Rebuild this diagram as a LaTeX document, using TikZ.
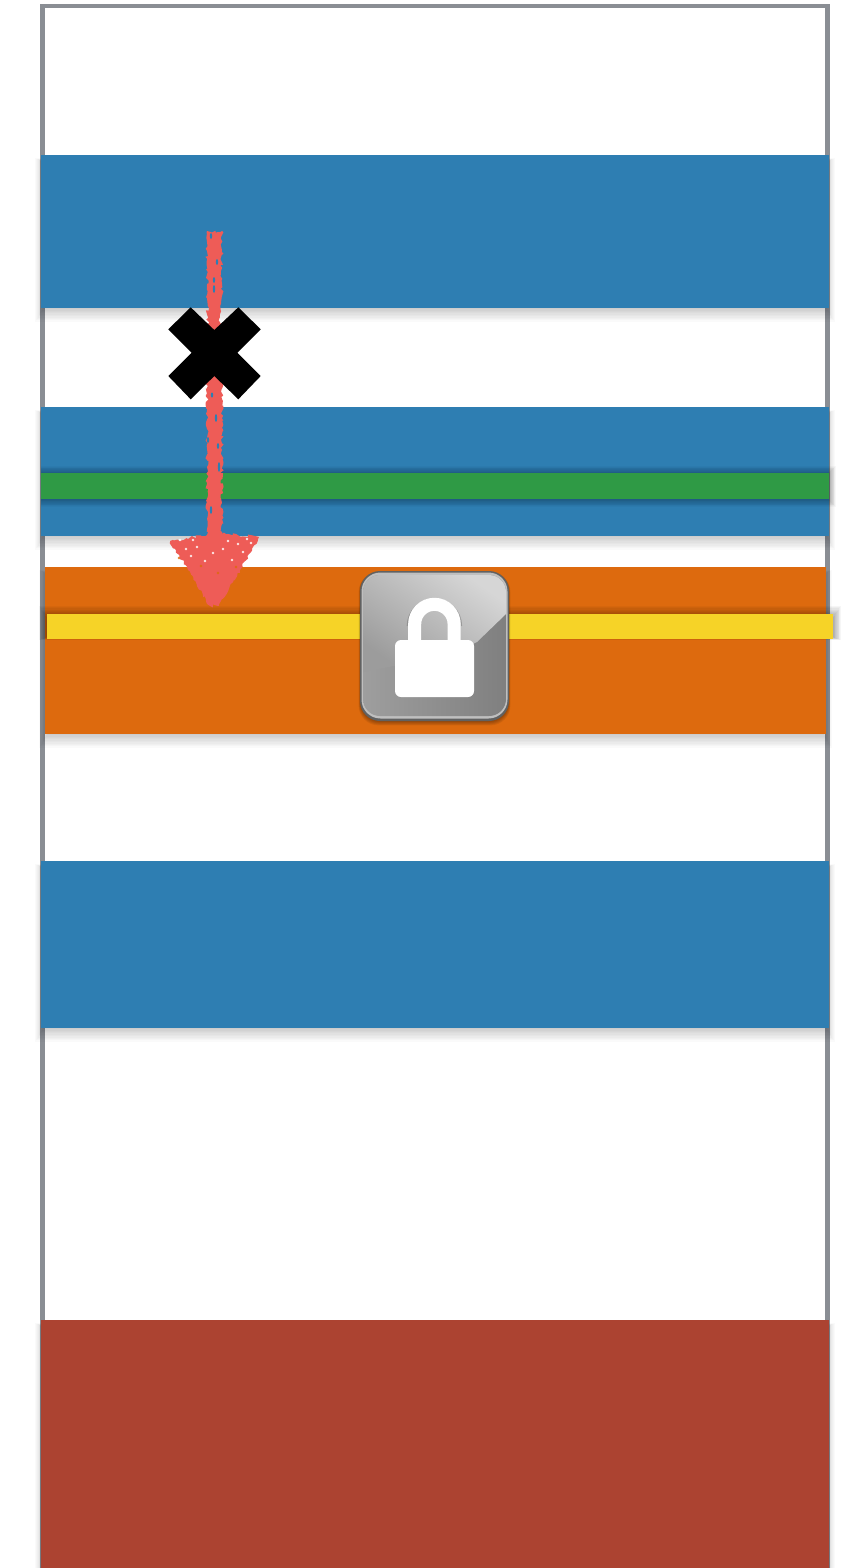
\documentclass[tikz,border=0pt]{standalone}
\usetikzlibrary{decorations.pathmorphing}
\definecolor{bandblue}{HTML}{2E7EB2}
\definecolor{bandgreen}{HTML}{2F9A45}
\definecolor{bandorange}{HTML}{DD6A0E}
\definecolor{bandyellow}{HTML}{F6D327}
\definecolor{bandred}{HTML}{AC4331}
\definecolor{framegray}{HTML}{8A8E94}
\definecolor{chalk}{HTML}{EE5C57}
\newcommand{\softshadow}[4]{%
  \foreach \i in {1,...,12}{%
    \fill[black,opacity=0.02] ({#1+4-\i*0.8},{#2+8-\i*0.4}) rectangle ({#3-4+\i*0.8},{#4-3+\i*1.4});
  }}
\tikzset{
  chalkrough/.style={fill=chalk,decorate,decoration={random steps,segment length=2.5pt,amplitude=1.6pt}},
  chalkhole/.style={fill=#1,opacity=.85},
}
\begin{document}
\begin{tikzpicture}[x=1pt,y=-1pt]
\useasboundingbox (0,0) rectangle (847,1568);
\fill[white] (0,0) rectangle (847,1568);
% frame
\draw[framegray,line width=4.6pt] (42.5,1580) -- (42.5,6) -- (827.5,6) -- (827.5,1580);
% bands
\softshadow{41}{155}{829}{308}
\fill[bandblue] (41,155) rectangle (829,308);
\softshadow{41}{407}{829}{536}
\fill[bandblue] (41,407) rectangle (829,536);
\foreach \i in {1,...,10}{
  \fill[black,opacity=0.028] ({41},{474-\i*0.8}) rectangle ({828+\i*0.8},{499+\i*0.8});
}
\fill[bandgreen] (41,473) rectangle (829,499);
\softshadow{45}{567}{826}{734}
\fill[bandorange] (45,567) rectangle (826,734);
\foreach \i in {1,...,10}{
  \fill[black,opacity=0.035] ({47-\i*0.8},{618-\i*1.2}) rectangle ({833+\i*0.8},{637+\i*0.3});
}
\fill[bandyellow] (47,614) rectangle (833,639);
\softshadow{41}{861}{829}{1028}
\fill[bandblue] (41,861) rectangle (829,1028);
\softshadow{41}{1320}{829}{1568}
\fill[bandred] (41,1320) rectangle (829,1568);
% lock button
\foreach \i in {1,...,6}{
  \fill[black,opacity=0.07,rounded corners=20pt] ({361-\i*0.4},{572}) rectangle ({508+\i*0.4},{720+\i*0.9});
}
\fill[black!62,rounded corners=20pt] (360,571) rectangle (509,721);
\begin{scope}
  \clip[rounded corners=19pt] (361.5,572.5) rectangle (507.5,718.5);
  \fill[black!25] (361,572) rectangle (508,720);
\end{scope}
\begin{scope}
  \clip[rounded corners=17pt] (363,575) rectangle (506,716);
  \shade[left color=black!38,right color=black!50] (363,574) rectangle (506,716);
  \path[shade,left color=black!39,right color=black!16,shading angle=145]
    (363,574) -- (506,574) -- (506,614) -- (477,642) -- (450,655) -- (363,672) -- cycle;
\end{scope}
% padlock
\draw[black!55,opacity=0.5,line width=1pt] (407.2,626) arc[start angle=-180,end angle=0,radius=27.2];
\draw[white,line width=13pt] (414.7,655) -- (414.7,624) arc[start angle=-180,end angle=0,radius=19.7] -- (454.1,655);
\fill[white,rounded corners=6pt] (395,640) rectangle (474,697);
% chalk arrow
\pgfmathsetseed{17}
\fill[chalkrough] (207,231) -- (222,231) -- (222,290) -- (219,332) -- (208,332) -- (207,290) -- cycle;
\fill[chalkrough] (207,372) -- (222,372) -- (222,534) -- (259,537) -- (240,570) -- (219,606) -- (210,606) -- (188,570) -- (170,541) -- (207,535) -- cycle;
\foreach \x/\y/\c in {180/540/white,179/558/bandorange,186/549/white,191/556/white,197/547/white,205/561/white,213/553/white,223/549/white,232/560/white,238/544/white,243/552/white,247/539/white,251/543/white,228/541/white,201/566/bandorange,218/573/bandorange,193/540/white,236/567/bandorange}{
  \fill[chalkhole=\c] (\x,\y) circle (1.3);
}
\foreach \x/\y/\h in {214/289/4,211/236/3,217/262/3,212/395/2.5,216/418/4,219/467/5,211/510/4,214/280/3,208/440/3,218/446/3}{
  \fill[bandblue] (\x,\y) ellipse (1.2 and \h);
}
% cross
\fill[black] (190.7,307.3) -- (214.3,330) -- (238.3,307.3) -- (260.7,329.3) -- (237.3,352.7) -- (260.7,376) -- (238.3,399.3) -- (214.3,376) -- (190.7,399.3) -- (168.3,376) -- (191.7,352.7) -- (168.3,329.3) -- cycle;
\end{tikzpicture}
\end{document}
